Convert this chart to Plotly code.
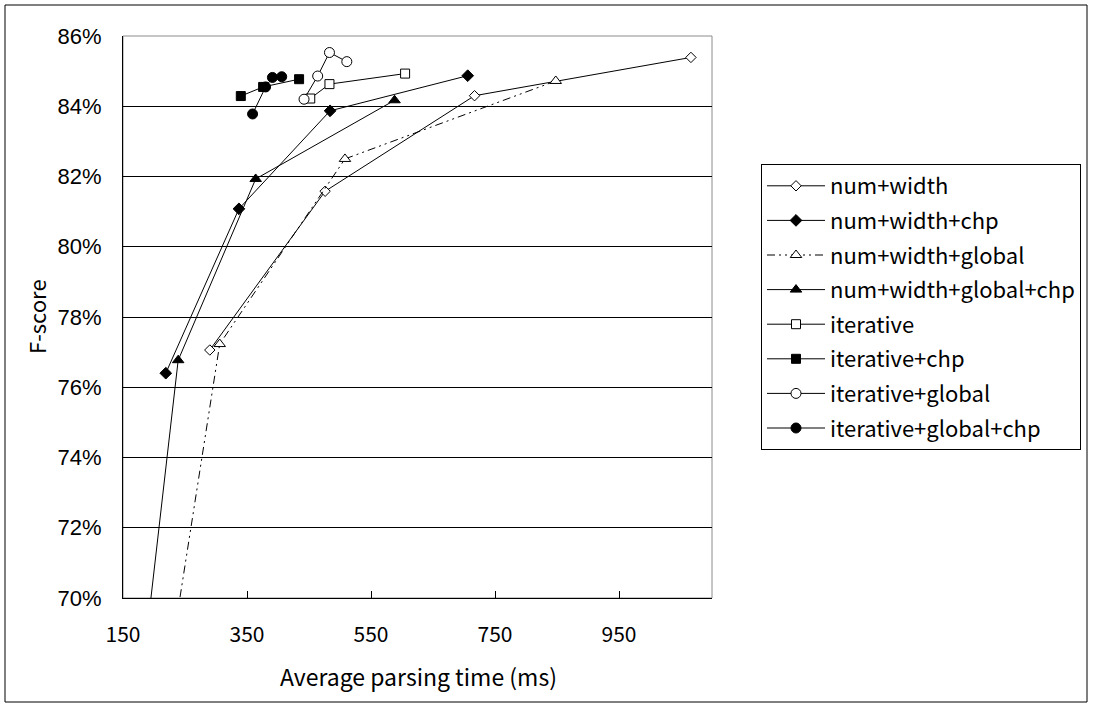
import plotly.graph_objects as go

# ---- data ----
series_names = ["num+width", "num+width+chp", "num+width+global", "num+width+global+chp",
                "iterative", "iterative+chp", "iterative+global", "iterative+global+chp"]

nw_x = [290, 476, 717, 1066]
nw_y = [77.06, 81.58, 84.30, 85.39]

nwc_x = [219, 337, 484, 706]
nwc_y = [76.40, 81.08, 83.87, 84.87]

nwg_x = [200, 306, 508, 848]
nwg_y = [65.3, 77.23, 82.50, 84.72]

nwgc_x = [160, 239, 364, 588]
nwgc_y = [64.6, 76.77, 81.93, 84.17]

it_x = [452, 483, 605]
it_y = [84.22, 84.63, 84.93]

itc_x = [340, 376, 434]
itc_y = [84.29, 84.55, 84.77]

itg_x = [442, 464, 483, 511]
itg_y = [84.20, 84.86, 85.53, 85.27]

itgc_x = [359, 380, 391, 406]
itgc_y = [83.78, 84.55, 84.82, 84.84]

x_ticks = [150, 350, 550, 750, 950]
y_ticks = [70, 72, 74, 76, 78, 80, 82, 84, 86]

# ---- styles ----
W, H = 1095, 708
L, R, T, B = 123, 712, 36, 598
FONT_J = "Noto Sans CJK JP"
FONT_N = "Liberation Sans Narrow, Liberation Sans, Arial"

styles = [
    dict(symbol="diamond", color="white", size=8, dash="solid"),
    dict(symbol="diamond", color="black", size=9, dash="solid"),
    dict(symbol="triangle-up", color="white", size=10, dash="8px,4px,2px,4px,2px,4px"),
    dict(symbol="triangle-up", color="black", size=10, dash="solid"),
    dict(symbol="square", color="white", size=9, dash="solid"),
    dict(symbol="square", color="black", size=9, dash="solid"),
    dict(symbol="circle", color="white", size=10, dash="solid"),
    dict(symbol="circle", color="black", size=10, dash="solid"),
]
xs = [nw_x, nwc_x, nwg_x, nwgc_x, it_x, itc_x, itg_x, itgc_x]
ys = [nw_y, nwc_y, nwg_y, nwgc_y, it_y, itc_y, itg_y, itgc_y]

fig = go.Figure()
for name, x, y, st in zip(series_names, xs, ys, styles):
    fig.add_trace(go.Scatter(
        x=x, y=y, name=name, mode="lines+markers", legendgroup=name,
        line=dict(color="black", width=1, dash=st["dash"]),
        marker=dict(symbol=st["symbol"], size=st["size"], color=st["color"],
                    line=dict(color="black", width=1)),
        cliponaxis=True,
    ))

def px_x(p):
    return (p - L) / (R - L)

def px_y(p):
    return (B - p) / (B - T)

shapes = [
    # outer frame
    dict(type="rect", xref="paper", yref="paper", x0=px_x(5), x1=px_x(1087),
         y0=px_y(702), y1=px_y(5), line=dict(color="black", width=1), layer="below"),
    # plot area border (gray)
    dict(type="rect", xref="paper", yref="paper", x0=0, x1=1, y0=0, y1=1,
         line=dict(color="#8c8c8c", width=1), layer="below"),
]

annotations = [
    dict(text="F-score", xref="paper", yref="paper", x=px_x(36), y=px_y(317),
         xanchor="center", yanchor="middle", textangle=-90, showarrow=False,
         font=dict(family=FONT_J, size=22, color="black")),
    dict(text="Average parsing time (ms)", xref="paper", yref="paper", x=px_x(418), y=px_y(676),
         xanchor="center", yanchor="middle", showarrow=False,
         font=dict(family=FONT_J, size=23, color="black")),
]

fig.update_layout(
    width=W, height=H,
    margin=dict(l=L, r=W - R, t=T, b=H - B),
    paper_bgcolor="white", plot_bgcolor="white",
    shapes=shapes,
    annotations=annotations,
    showlegend=True,
    legend=dict(
        x=px_x(761), y=px_y(164), xanchor="left", yanchor="top",
        bordercolor="black", borderwidth=1, bgcolor="white",
        font=dict(family=FONT_J, size=22, color="black"),
        tracegroupgap=3, itemwidth=58,
    ),
    xaxis=dict(
        range=[150, 1100], tickvals=x_ticks, ticktext=[str(v) for v in x_ticks],
        showgrid=False, zeroline=False, showline=True, linecolor="black", linewidth=1,
        ticks="inside", ticklen=7, tickcolor="black",
        tickfont=dict(family=FONT_J, size=21, color="black"),
        ticklabelstandoff=18,
    ),
    yaxis=dict(
        range=[70, 86], tickvals=y_ticks, ticktext=[f"{v}%" for v in y_ticks],
        showgrid=True, gridcolor="black", gridwidth=1, zeroline=False,
        showline=True, linecolor="black", linewidth=1,
        ticks="inside", ticklen=7, tickcolor="black",
        tickfont=dict(family=FONT_N, size=22, color="black"),
        ticklabelstandoff=16,
    ),
)

fig.write_html("out.html")
